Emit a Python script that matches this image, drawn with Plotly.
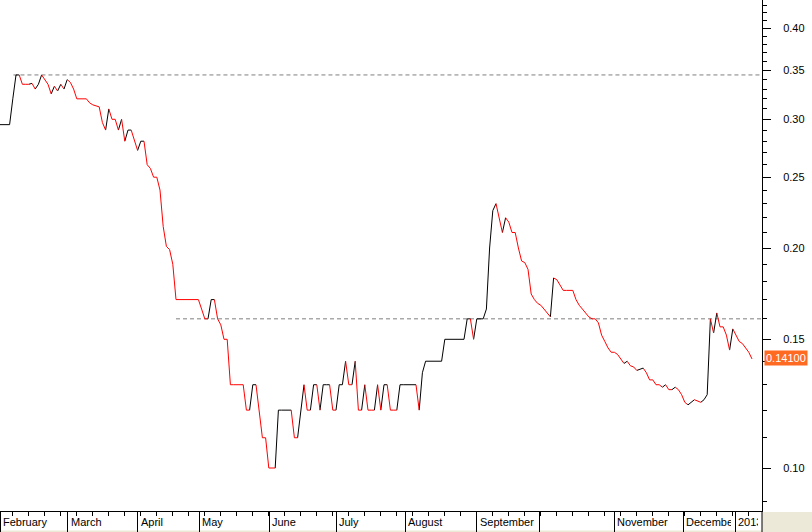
import plotly.graph_objects as go
import numpy as np

# Daily closing prices (one per trading day, Feb 2012 - Jan 2013)
values = [
    0.295, 0.295, 0.295, 0.295, 0.320, 0.345, 0.345, 0.335, 0.335, 0.335,
    0.336, 0.330, 0.335, 0.345, 0.340, 0.335, 0.325, 0.333, 0.328, 0.335,
    0.330, 0.340, 0.337, 0.330, 0.320, 0.320, 0.320, 0.320, 0.316, 0.314,
    0.313, 0.312, 0.297, 0.290, 0.310, 0.300, 0.300, 0.290, 0.300, 0.280,
    0.290, 0.290, 0.280, 0.272, 0.280, 0.280, 0.260, 0.257, 0.250, 0.250,
    0.240, 0.214, 0.201, 0.199, 0.190, 0.170, 0.170, 0.170, 0.170, 0.170,
    0.170, 0.170, 0.170, 0.165, 0.160, 0.160, 0.170, 0.170, 0.160, 0.157,
    0.150, 0.150, 0.130, 0.130, 0.130, 0.130, 0.130, 0.120, 0.120, 0.130,
    0.130, 0.120, 0.110, 0.110, 0.100, 0.100, 0.100, 0.120, 0.120, 0.120,
    0.120, 0.120, 0.110, 0.110, 0.120, 0.130, 0.120, 0.120, 0.130, 0.130,
    0.120, 0.130, 0.130, 0.130, 0.120, 0.120, 0.130, 0.130, 0.140, 0.130,
    0.130, 0.140, 0.120, 0.120, 0.130, 0.120, 0.120, 0.120, 0.130, 0.120,
    0.130, 0.130, 0.120, 0.120, 0.120, 0.130, 0.130, 0.130, 0.130, 0.130,
    0.130, 0.120, 0.135, 0.140, 0.140, 0.140, 0.140, 0.140, 0.140, 0.150,
    0.150, 0.150, 0.150, 0.150, 0.150, 0.150, 0.160, 0.160, 0.150, 0.160,
    0.160, 0.160, 0.165, 0.200, 0.225, 0.230, 0.220, 0.210, 0.220, 0.217,
    0.210, 0.210, 0.200, 0.192, 0.191, 0.187, 0.173, 0.170, 0.168, 0.167,
    0.165, 0.163, 0.161, 0.182, 0.181, 0.178, 0.175, 0.175, 0.175, 0.175,
    0.170, 0.167, 0.165, 0.163, 0.161, 0.160, 0.160, 0.158, 0.152, 0.149,
    0.146, 0.144, 0.144, 0.143, 0.141, 0.139, 0.140, 0.138, 0.1375, 0.136,
    0.1365, 0.137, 0.135, 0.132, 0.132, 0.130, 0.130, 0.129, 0.130, 0.128,
    0.128, 0.129, 0.128, 0.126, 0.123, 0.122, 0.123, 0.124, 0.1235, 0.123,
    0.124, 0.126, 0.160, 0.153, 0.163, 0.156, 0.156, 0.152, 0.145, 0.155,
    0.152, 0.149, 0.148, 0.146, 0.144, 0.141,
]

# Month boundaries (in trading-day index units) and their labels
month_starts = [0, 21.15, 43.1, 62.2, 84.1, 105.0, 126.6, 149.0, 168.5, 191.9, 213.5, 229.7]
month_labels = ["February", "March", "April", "May", "June", "July", "August",
                "September", "", "November", "December", "2013"]

# Horizontal reference levels: (start index, price)
ref_starts = [4.2, 55.0]
ref_levels = [0.345, 0.16]

y_tick_vals = [0.10, 0.15, 0.20, 0.25, 0.30, 0.35, 0.40]
y_tick_text = ["0.10", "0.15", "0.20", "0.25", "0.30", "0.35", "0.40"]
y_minor_vals = [0.09, 0.11, 0.12, 0.13, 0.14, 0.16, 0.17, 0.18, 0.19, 0.21, 0.22,
                0.23, 0.24, 0.26, 0.27, 0.28, 0.29, 0.31, 0.32, 0.33, 0.34, 0.36,
                0.37, 0.38, 0.39, 0.41, 0.42, 0.43]
last_label = "0.14100"

W, H = 812, 532
ML, MR, MT, MB = 0, 50, 0, 21
plot_w = W - ML - MR
plot_h = H - MT - MB
x_end = plot_w / 3.2
week_ticks = list(np.arange(4, x_end, 5))

N = len(values)
segs = {"up": ([], []), "down": ([], [])}
state, prev = "up", None
for i in range(N - 1):
    a, b = values[i], values[i + 1]
    if b > a:
        state = "up"
    elif b < a:
        state = "down"
    xs, ys = segs[state]
    if state != prev:
        if xs:
            xs.append(None)
            ys.append(None)
        xs.append(i)
        ys.append(a)
    xs.append(i + 1)
    ys.append(b)
    prev = state

fig = go.Figure()
for s, lvl in zip(ref_starts, ref_levels):
    fig.add_trace(go.Scatter(x=[s, x_end], y=[lvl, lvl], mode="lines",
                             line=dict(color="#7f7f7f", width=1, dash="4px,3px"),
                             hoverinfo="skip", showlegend=False))
fig.add_trace(go.Scatter(x=segs["up"][0], y=segs["up"][1], mode="lines",
                         line=dict(color="black", width=1), showlegend=False))
fig.add_trace(go.Scatter(x=segs["down"][0], y=segs["down"][1], mode="lines",
                         line=dict(color="#ff0000", width=1), showlegend=False))

font = dict(family="Liberation Sans, Arial, sans-serif", size=11, color="black")

annotations = []
clip_w = {"December": 45, "2013": 20}
for ms, lab in zip(month_starts, month_labels):
    if not lab:
        continue
    ann = dict(x=ms, xref="x", y=0, yref="paper", yanchor="top", xanchor="left",
               text=lab, showarrow=False, font=font, xshift=1, yshift=-3,
               align="left")
    if lab in clip_w:
        ann["width"] = clip_w[lab]
    annotations.append(ann)

annotations.append(dict(x=1, xref="paper", y=np.log10(values[-1]), yref="y",
                        xanchor="left", yanchor="middle", xshift=2, yshift=1,
                        text=last_label, showarrow=False,
                        font=dict(family="Liberation Sans, Arial, sans-serif", size=11, color="white"),
                        bgcolor="#ff6a22", borderpad=1))

shapes = [
    dict(type="rect", xref="paper", yref="paper", x0=1, x1=1 + MR / plot_w,
         y0=-MB / plot_h, y1=-1 / plot_h, fillcolor="#ece9d8", line=dict(width=0), layer="below"),
    dict(type="line", xref="paper", yref="paper", x0=1, x1=1,
         y0=-MB / plot_h, y1=0, line=dict(color="black", width=1)),
    dict(type="rect", xref="paper", yref="paper", x0=0, x1=1,
         y0=-MB / plot_h, y1=-(MB - 1.5) / plot_h, fillcolor="#ece9d8", line=dict(width=0), layer="below"),
]

fig.update_layout(
    width=W, height=H,
    margin=dict(l=ML, r=MR, t=MT, b=MB, pad=0),
    paper_bgcolor="white", plot_bgcolor="white",
    showlegend=False,
    annotations=annotations,
    shapes=shapes,
    xaxis=dict(range=[0, x_end], showgrid=False, zeroline=False,
               showline=True, linecolor="black", linewidth=1,
               tickmode="array", tickvals=month_starts, ticks="outside",
               ticklen=MB, tickcolor="black", tickwidth=1, showticklabels=False,
               minor=dict(tickmode="array", tickvals=week_ticks, ticks="outside",
                          ticklen=4, tickcolor="black", tickwidth=1, showgrid=False)),
    yaxis=dict(type="log", side="right", range=[np.log10(0.08733), np.log10(0.4369)],
               showgrid=False, zeroline=False, showline=True, linecolor="black", linewidth=1,
               tickmode="array", tickvals=y_tick_vals, ticktext=y_tick_text,
               ticks="outside", ticklen=8, tickcolor="black", tickwidth=1,
               tickfont=font, ticklabelstandoff=10,
               minor=dict(tickmode="array", tickvals=y_minor_vals, ticks="outside",
                          ticklen=4, tickcolor="black", tickwidth=1, showgrid=False)),
)

fig.write_html("out.html", config={"displayModeBar": False},
               post_script="document.body.style.margin='0px';document.body.style.overflow='hidden';")
